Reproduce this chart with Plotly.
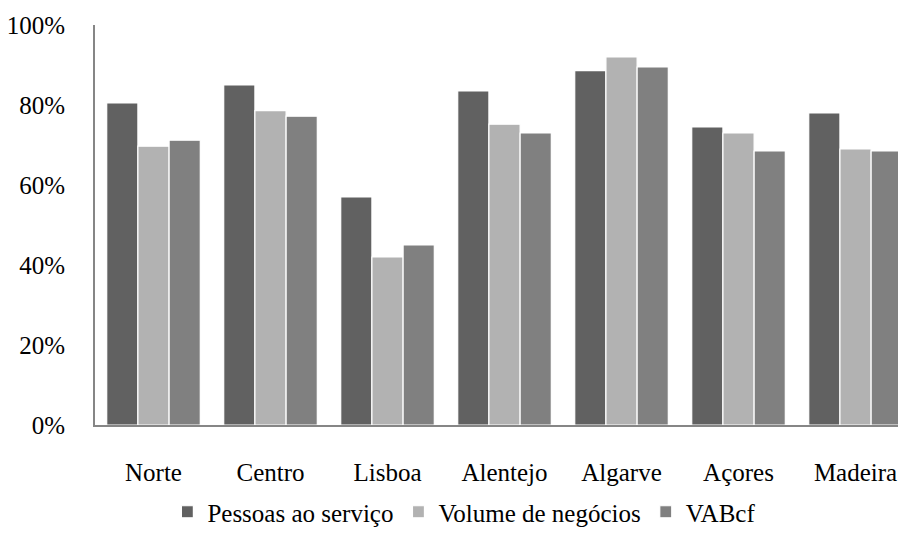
import plotly.graph_objects as go

regions = ["Norte", "Centro", "Lisboa", "Alentejo", "Algarve", "Açores", "Madeira"]
series_names = ["Pessoas ao serviço", "Volume de negócios", "VABcf"]
pessoas = [0.805, 0.85, 0.57, 0.835, 0.886, 0.745, 0.78]
volume = [0.697, 0.786, 0.42, 0.752, 0.92, 0.73, 0.69]
vabcf = [0.712, 0.772, 0.45, 0.73, 0.895, 0.685, 0.685]
colors = ["#616161", "#b2b2b2", "#808080"]

FONT = "Liberation Serif"

fig = go.Figure()
for name, vals, col in zip(series_names, [pessoas, volume, vabcf], colors):
    fig.add_trace(go.Bar(
        x=regions, y=vals, name=name,
        marker=dict(color=col, line=dict(color="white", width=1.2)),
    ))

fig.update_layout(
    width=898, height=545,
    margin=dict(l=95, r=0, t=25, b=120),
    paper_bgcolor="white", plot_bgcolor="white",
    barmode="group", bargap=0.2, bargroupgap=0.0,
    font=dict(family=FONT, size=25, color="black"),
    showlegend=True,
    legend=dict(
        orientation="h", x=0.46, xanchor="center", y=-0.2175, yanchor="middle",
        font=dict(family=FONT, size=25, color="black"),
        traceorder="normal",
    ),
    xaxis=dict(
        range=[-0.5, 6.363], showline=True, linecolor="#868686", linewidth=2,
        showgrid=False, zeroline=False,
        # invisible ticks push the category labels away from the axis line
        ticks="outside", ticklen=24, tickcolor="rgba(255,255,255,0)",
        tickfont=dict(family=FONT, size=25, color="black"),
    ),
    yaxis=dict(
        range=[0, 1], tickvals=[0, 0.2, 0.4, 0.6, 0.8, 1.0], tickformat=".0%",
        showline=True, linecolor="#868686", linewidth=2, showgrid=False,
        zeroline=False,
        ticks="outside", ticklen=23, tickcolor="rgba(255,255,255,0)",
        tickfont=dict(family=FONT, size=25, color="black"),
    ),
)

fig.write_html("out.html")
